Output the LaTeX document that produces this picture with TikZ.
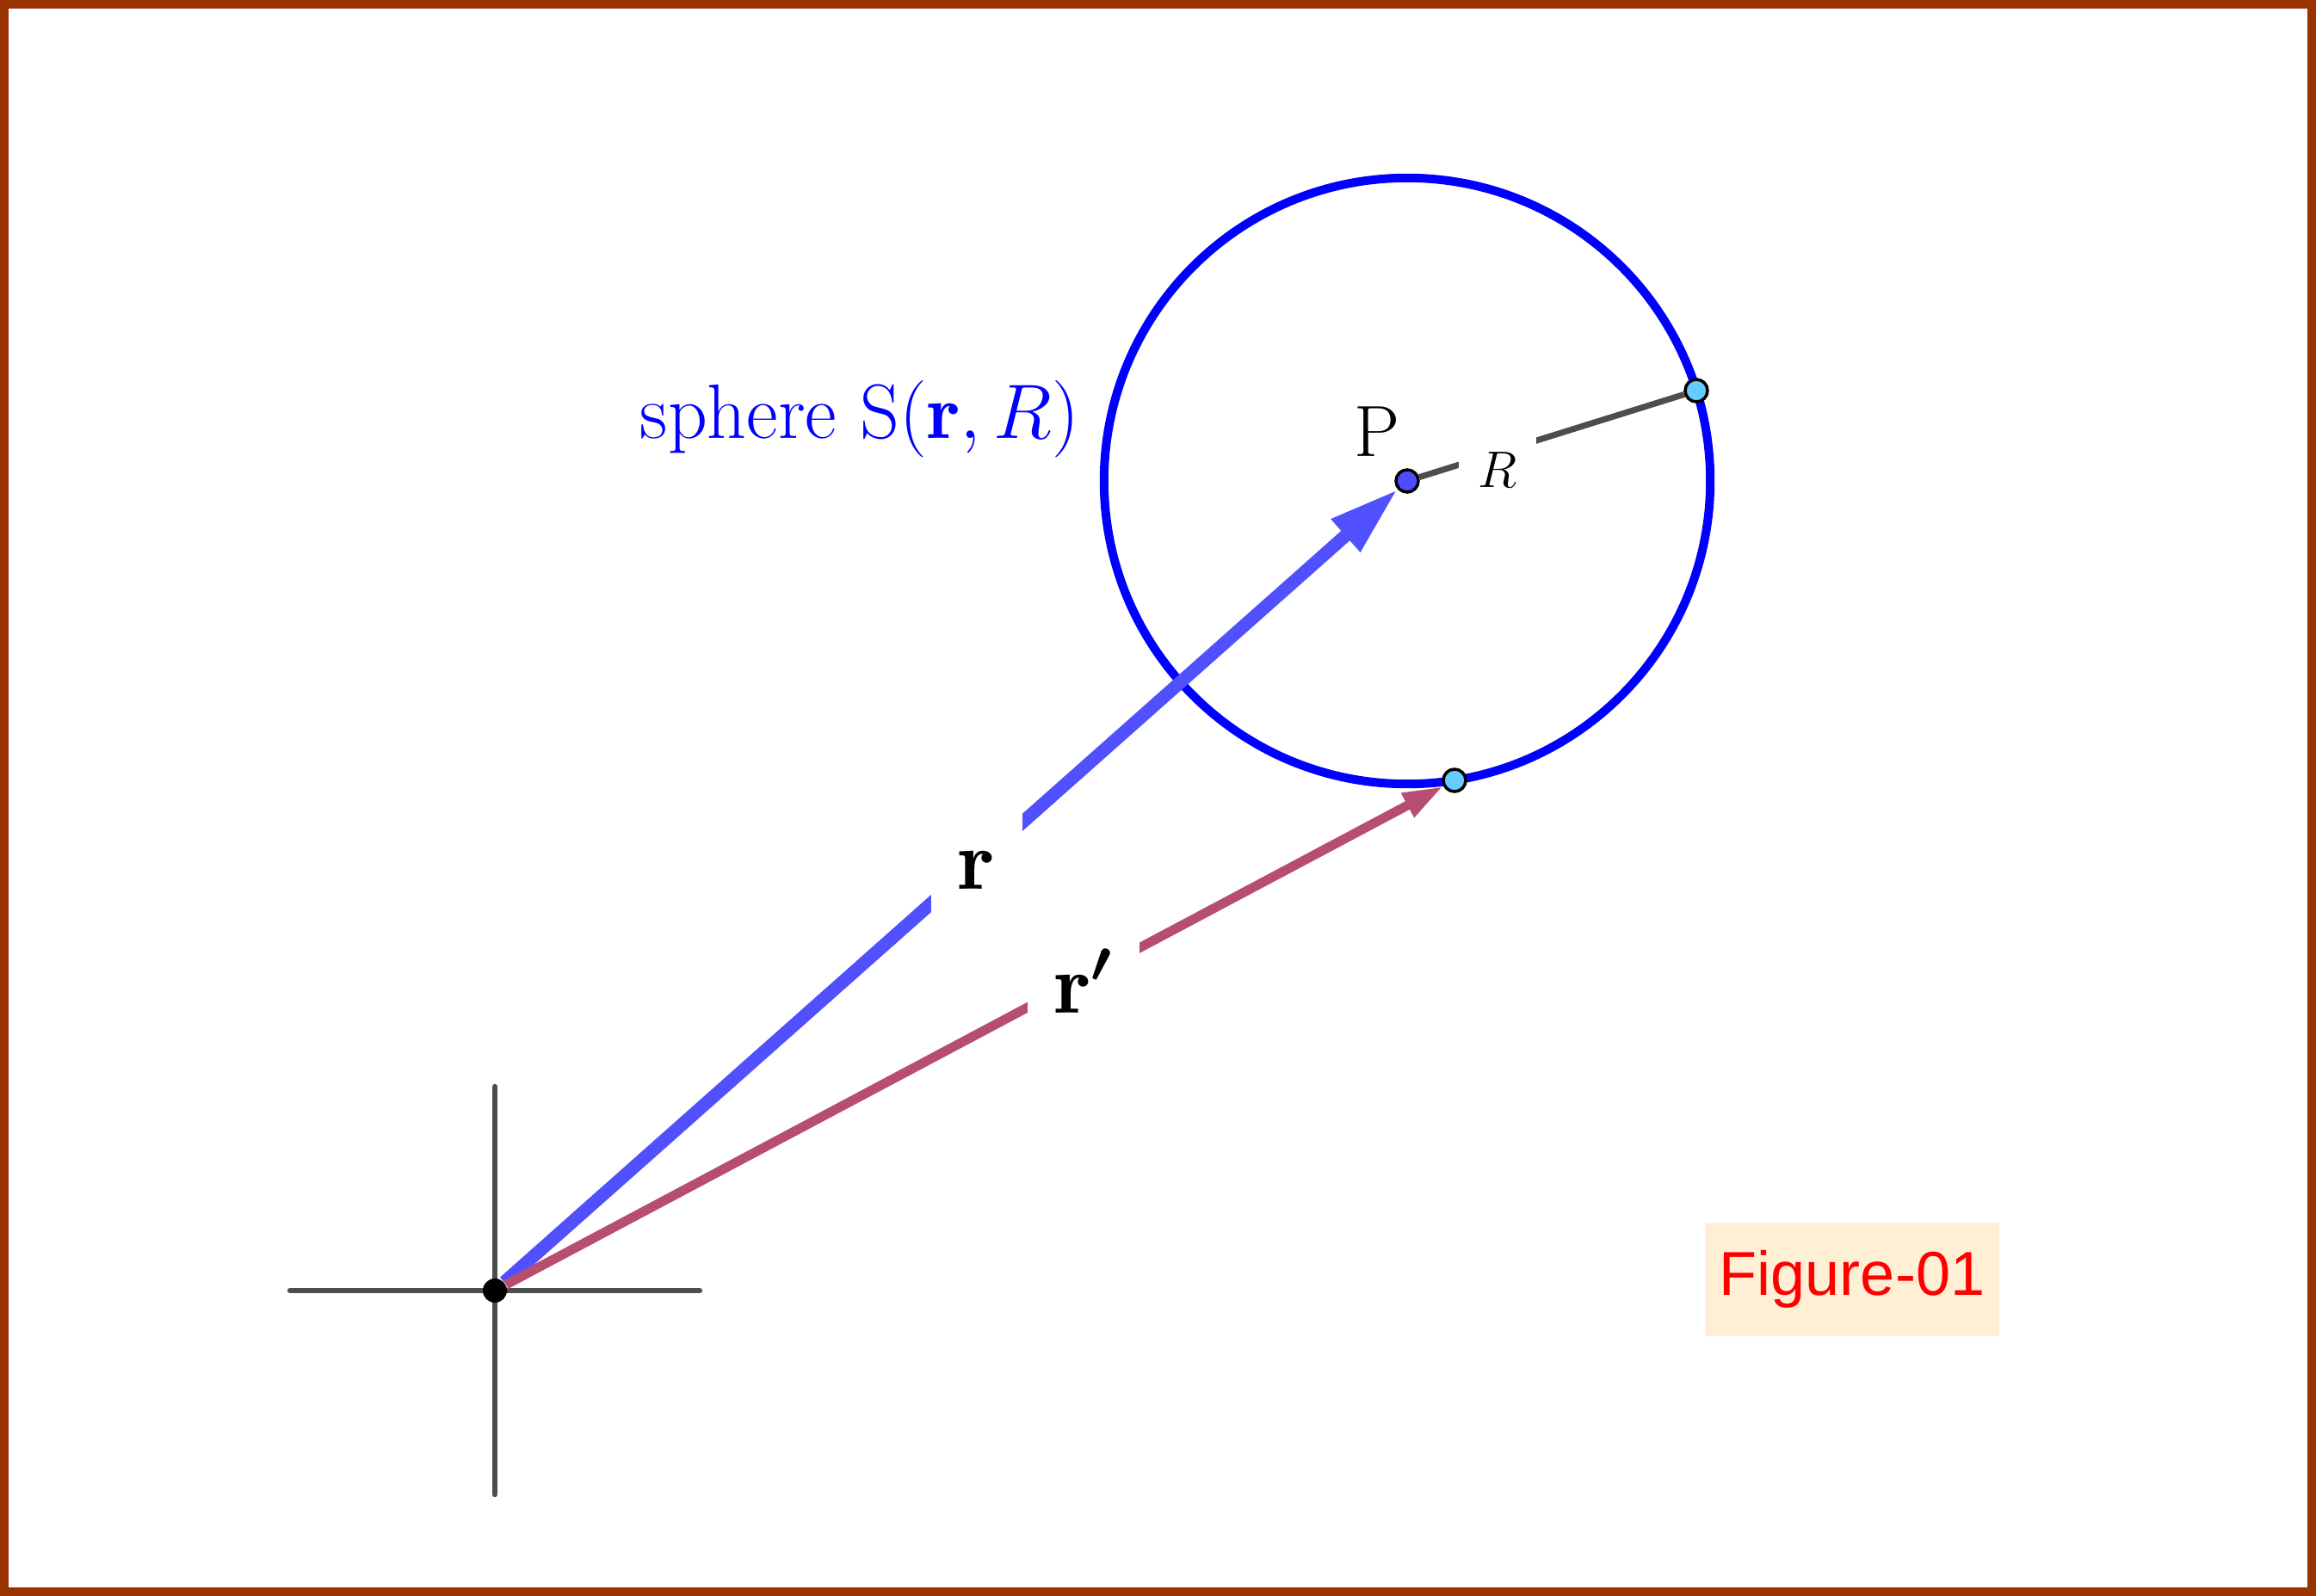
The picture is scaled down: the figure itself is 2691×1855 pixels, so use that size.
\RequirePackage{fix-cm}
\documentclass[tikz,border=0pt]{standalone}
\usepackage{amsmath}
\usepackage{fontspec}
\newfontfamily\figfont{Liberation Sans}
\usetikzlibrary{arrows.meta}
\definecolor{framebrown}{RGB}{153,51,0}
\definecolor{axisgray}{RGB}{77,77,77}
\definecolor{rblue}{RGB}{80,80,255}
\definecolor{rpink}{RGB}{183,78,112}
\definecolor{pblue}{RGB}{77,77,255}
\definecolor{qcyan}{RGB}{102,204,255}
\definecolor{tagbg}{RGB}{255,239,213}
\newcommand{\fsz}[1]{\fontsize{#1}{#1}\selectfont}

\begin{document}
\begin{tikzpicture}[x=0.01cm,y=-0.01cm]
   \useasboundingbox (0,0) rectangle (2691,1855);
   \draw[framebrown,line width=2.85pt] (5,5) rectangle (2686,1850);
   % axes through the origin
   \coordinate (xl) at ( 337,1500);
   \coordinate (xr) at ( 813,1500);
   \coordinate (yt) at ( 575,1263);
   \coordinate (yb) at ( 575,1737);
   \coordinate (c)  at (1635, 559);
   \draw[axisgray,line width=1.8pt,line cap=round] (xl) to (xr);
   \draw[axisgray,line width=1.8pt,line cap=round] (yt) to (yb);
   % the sphere
   \draw[blue,line width=2.85pt] (c) circle [radius=3.52cm];
   \node (o) at ( 575,1500) [circle,fill=black,inner sep=0pt,minimum size=0.28cm] {};
   \node (p) at (c) [circle,draw,fill=pblue,line width=1pt,inner sep=0pt,minimum size=0.26cm] {};
   \node (t) at (1971, 454) [circle,draw,fill=qcyan,line width=1pt,inner sep=0pt,minimum size=0.26cm] {};
   \node (q) at (1690, 907) [circle,draw,fill=qcyan,line width=1pt,inner sep=0pt,minimum size=0.26cm] {};
   \draw[-{Triangle[length=0.81cm,width=0.47cm]},rblue,line width=4.3pt] (o) to (p);
   \draw[-{Triangle[length=0.47cm,width=0.29cm]},rpink,line width=3.1pt] (o) to (q);
   \draw[axisgray,line width=2pt] (p) to (t);
   % labels
   \node (lr)  at (1135,1033) [anchor=base,fill=white,inner sep=9pt,text height=24pt] {\fsz{28pt}$\mathbf{r}$};
   \node (lrp) at (1259,1177) [anchor=base,fill=white,inner sep=9pt,text height=24pt] {\fsz{28pt}$\mathbf{r}^{\boldsymbol{\prime}}$};
   \node (lR)  at (1740, 567) [anchor=base,fill=white,inner sep=6.5pt,text height=13pt] {\fsz{17pt}$R$};
   \node (lP)  at (1600, 530) [anchor=base] {\fsz{24pt}P};
   \node (ls)  at ( 999, 509) [anchor=base,blue] {\fsz{25.5pt}sphere $\mathrm{S}(\mathbf{r},R)$};
   \node (fig) at (2152,1487) [fill=tagbg,text=red,minimum width=3.42cm,minimum height=1.32cm] {\figfont\fsz{20.5pt}Figure-01};
\end{tikzpicture}
\end{document}
